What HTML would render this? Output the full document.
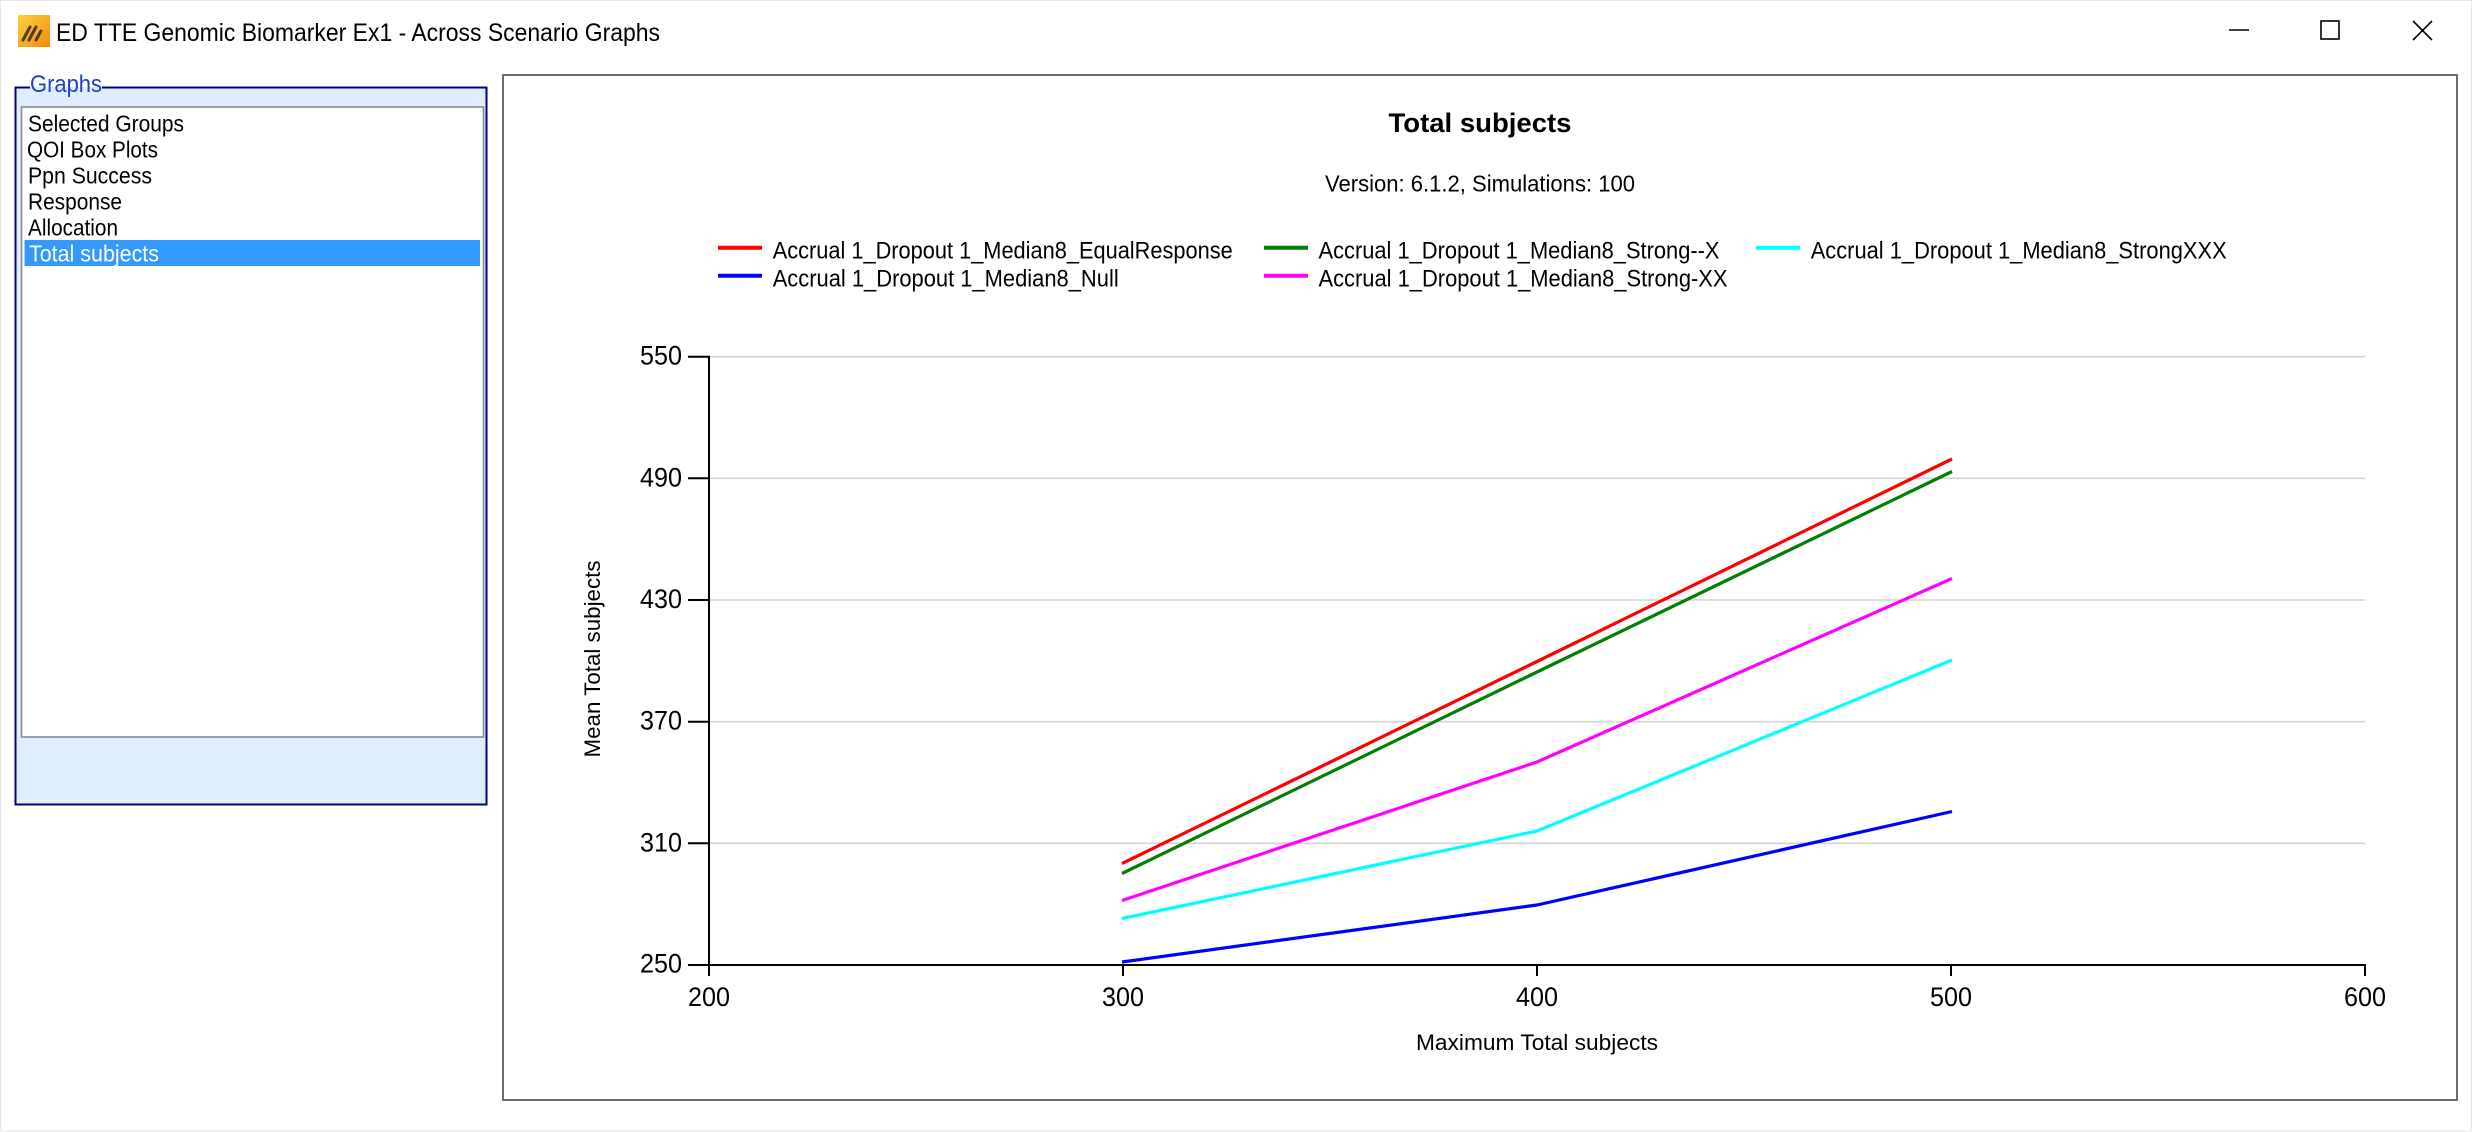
<!DOCTYPE html>
<html>
<head>
<meta charset="utf-8">
<style>
  html,body{margin:0;padding:0;background:#ffffff;}
  body{width:2472px;height:1132px;overflow:hidden;}
  svg{display:block;}
  text{font-family:"Liberation Sans", Arial, sans-serif;}
</style>
</head>
<body>
<svg width="2472" height="1132" viewBox="0 0 2472 1132" xmlns="http://www.w3.org/2000/svg">
  <defs>
    <linearGradient id="ig" x1="0" y1="0" x2="1" y2="1">
      <stop offset="0" stop-color="#ffd23a"/>
      <stop offset="1" stop-color="#f08a10"/>
    </linearGradient>
  </defs>

  <!-- window background & frame -->
  <rect x="0" y="0" width="2472" height="1132" fill="#ffffff"/>
  <rect x="0.5" y="0.5" width="2471" height="1131" fill="none" stroke="#e6e6e6" stroke-width="1"/>
  <rect x="0" y="1130" width="2472" height="2" fill="#f2f2f2"/>

  <!-- title bar -->
  <rect x="18" y="15" width="32" height="32" fill="url(#ig)"/>
  <g stroke="#4a3a28" stroke-width="3" stroke-linecap="round">
    <line x1="23" y1="40" x2="30" y2="27"/>
    <line x1="29" y1="40" x2="36" y2="27"/>
    <line x1="36" y1="40" x2="41" y2="31"/>
  </g>
  <text x="56" y="41" font-size="25" fill="#000" textLength="604" lengthAdjust="spacingAndGlyphs">ED TTE Genomic Biomarker Ex1 - Across Scenario Graphs</text>

  <!-- window controls -->
  <line x1="2229" y1="30" x2="2249" y2="30" stroke="#000" stroke-width="1.6"/>
  <rect x="2321" y="21" width="18" height="18" fill="none" stroke="#000" stroke-width="1.6"/>
  <line x1="2413" y1="21" x2="2432" y2="40" stroke="#000" stroke-width="1.6"/>
  <line x1="2432" y1="21" x2="2413" y2="40" stroke="#000" stroke-width="1.6"/>

  <!-- Graphs group box -->
  <rect x="15" y="87" width="472" height="718" fill="#dfeeff"/>
  <path d="M30 87.5 L15.5 87.5 L15.5 804.5 L486.5 804.5 L486.5 87.5 L102 87.5" fill="none" stroke="#000080" stroke-width="2"/>
  <text x="30" y="92" font-size="24" fill="#2040c0" textLength="72" lengthAdjust="spacingAndGlyphs">Graphs</text>

  <!-- list box -->
  <rect x="21.5" y="107" width="462" height="630" fill="#ffffff" stroke="#868a93" stroke-width="1.6"/>
  <rect x="24.5" y="240" width="455.5" height="26" fill="#3399ff"/>
  <g font-size="23" fill="#000">
    <text x="28" y="131.5" textLength="156" lengthAdjust="spacingAndGlyphs">Selected Groups</text>
    <text x="27" y="157.5" textLength="131" lengthAdjust="spacingAndGlyphs">QOI Box Plots</text>
    <text x="28" y="183.5" textLength="124" lengthAdjust="spacingAndGlyphs">Ppn Success</text>
    <text x="28" y="209.5" textLength="94" lengthAdjust="spacingAndGlyphs">Response</text>
    <text x="28" y="235.5" textLength="90" lengthAdjust="spacingAndGlyphs">Allocation</text>
    <text x="29" y="261.5" textLength="130" lengthAdjust="spacingAndGlyphs" fill="#ffffff">Total subjects</text>
  </g>

  <!-- chart panel -->
  <rect x="503" y="75" width="1954" height="1025" fill="#ffffff" stroke="#6b6b6b" stroke-width="2"/>

  <!-- chart title -->
  <text x="1480" y="132" font-size="27" font-weight="bold" fill="#000" text-anchor="middle" textLength="183" lengthAdjust="spacingAndGlyphs">Total subjects</text>
  <text x="1480" y="191.5" font-size="23" fill="#000" text-anchor="middle" textLength="310" lengthAdjust="spacingAndGlyphs">Version: 6.1.2, Simulations: 100</text>

  <!-- legend -->
  <g stroke-width="4">
    <line x1="718" y1="247.7" x2="762" y2="247.7" stroke="#ff0000"/>
    <line x1="1264" y1="247.7" x2="1308" y2="247.7" stroke="#008000"/>
    <line x1="1756" y1="247.7" x2="1800" y2="247.7" stroke="#00ffff"/>
    <line x1="718" y1="275.7" x2="762" y2="275.7" stroke="#0000ff"/>
    <line x1="1264" y1="275.7" x2="1308" y2="275.7" stroke="#ff00ff"/>
  </g>
  <g font-size="24" fill="#000">
    <text x="772.7" y="258.3" textLength="460" lengthAdjust="spacingAndGlyphs">Accrual 1_Dropout 1_Median8_EqualResponse</text>
    <text x="1318.5" y="258.3" textLength="401" lengthAdjust="spacingAndGlyphs">Accrual 1_Dropout 1_Median8_Strong--X</text>
    <text x="1810.7" y="258.3" textLength="416" lengthAdjust="spacingAndGlyphs">Accrual 1_Dropout 1_Median8_StrongXXX</text>
    <text x="772.7" y="286.7" textLength="346" lengthAdjust="spacingAndGlyphs">Accrual 1_Dropout 1_Median8_Null</text>
    <text x="1318.5" y="286.7" textLength="409" lengthAdjust="spacingAndGlyphs">Accrual 1_Dropout 1_Median8_Strong-XX</text>
  </g>

  <!-- gridlines -->
  <g stroke="#d3d3d3" stroke-width="1.6">
    <line x1="709" y1="356.7" x2="2365" y2="356.7"/>
    <line x1="709" y1="478.3" x2="2365" y2="478.3"/>
    <line x1="709" y1="600" x2="2365" y2="600"/>
    <line x1="709" y1="721.7" x2="2365" y2="721.7"/>
    <line x1="709" y1="843.3" x2="2365" y2="843.3"/>
  </g>

  <!-- axes -->
  <g stroke="#000" stroke-width="2">
    <line x1="709" y1="355.7" x2="709" y2="966"/>
    <line x1="708" y1="965" x2="2366" y2="965"/>
    <!-- y ticks -->
    <line x1="688" y1="356.7" x2="709" y2="356.7"/>
    <line x1="688" y1="478.3" x2="709" y2="478.3"/>
    <line x1="688" y1="600" x2="709" y2="600"/>
    <line x1="688" y1="721.7" x2="709" y2="721.7"/>
    <line x1="688" y1="843.3" x2="709" y2="843.3"/>
    <line x1="688" y1="965" x2="709" y2="965"/>
    <!-- x ticks -->
    <line x1="709" y1="965" x2="709" y2="976"/>
    <line x1="1123" y1="965" x2="1123" y2="976"/>
    <line x1="1537" y1="965" x2="1537" y2="976"/>
    <line x1="1951" y1="965" x2="1951" y2="976"/>
    <line x1="2365" y1="965" x2="2365" y2="976"/>
  </g>

  <!-- y tick labels -->
  <g font-size="27" fill="#000" text-anchor="end">
    <text x="682" y="364.7" textLength="42" lengthAdjust="spacingAndGlyphs">550</text>
    <text x="682" y="486.3" textLength="42" lengthAdjust="spacingAndGlyphs">490</text>
    <text x="682" y="608" textLength="42" lengthAdjust="spacingAndGlyphs">430</text>
    <text x="682" y="729.7" textLength="42" lengthAdjust="spacingAndGlyphs">370</text>
    <text x="682" y="851.3" textLength="42" lengthAdjust="spacingAndGlyphs">310</text>
    <text x="682" y="972.5" textLength="42" lengthAdjust="spacingAndGlyphs">250</text>
  </g>
  <!-- x tick labels -->
  <g font-size="27" fill="#000" text-anchor="middle">
    <text x="709" y="1006" textLength="42" lengthAdjust="spacingAndGlyphs">200</text>
    <text x="1123" y="1006" textLength="42" lengthAdjust="spacingAndGlyphs">300</text>
    <text x="1537" y="1006" textLength="42" lengthAdjust="spacingAndGlyphs">400</text>
    <text x="1951" y="1006" textLength="42" lengthAdjust="spacingAndGlyphs">500</text>
    <text x="2365" y="1006" textLength="42" lengthAdjust="spacingAndGlyphs">600</text>
  </g>

  <!-- axis titles -->
  <text x="1537" y="1050" font-size="22" fill="#000" text-anchor="middle" textLength="242" lengthAdjust="spacingAndGlyphs">Maximum Total subjects</text>
  <text transform="translate(600,659) rotate(-90)" x="0" y="0" font-size="22" fill="#000" text-anchor="middle" textLength="197" lengthAdjust="spacingAndGlyphs">Mean Total subjects</text>

  <!-- series -->
  <g fill="none" stroke-width="3.2" stroke-linejoin="round">
    <polyline stroke="#0000ff" points="1122,962 1537,905 1952,811.5"/>
    <polyline stroke="#00ffff" points="1122,918.5 1537,831 1952,660"/>
    <polyline stroke="#ff00ff" points="1122,900.5 1537,762 1952,578.5"/>
    <polyline stroke="#008000" points="1122,873.5 1537,672 1952,471.5"/>
    <polyline stroke="#ff0000" points="1122,863.5 1537,661.5 1952,459"/>
  </g>
</svg>
</body>
</html>
